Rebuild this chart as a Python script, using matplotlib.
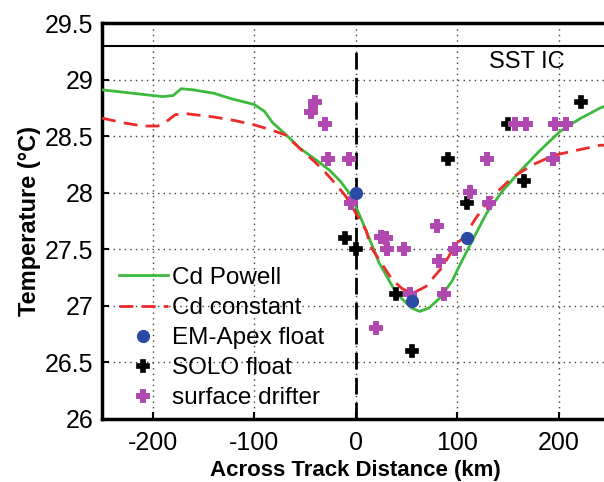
import numpy as np
import matplotlib
matplotlib.use("Agg")
import matplotlib.pyplot as plt

plt.rcParams['font.family'] = ['Liberation Sans', 'DejaVu Sans']
plt.rcParams['axes.unicode_minus'] = False

# model curves (km, degC)
powell_x = [-250, -220, -190, -180, -172, -160, -140, -122, -100, -90, -82, -66, -56,
            -36, -26, -15, -5, 0, 10, 23, 40, 55, 63, 72, 83, 95, 102, 115, 129,
            145, 162, 180, 201, 220, 241, 250]
powell_t = [28.91, 28.88, 28.85, 28.86, 28.92, 28.91, 28.88, 28.83, 28.78, 28.72, 28.62,
            28.49, 28.40, 28.27, 28.20, 28.10, 27.98, 27.88, 27.67, 27.38, 27.11, 26.98,
            26.95, 26.98, 27.07, 27.22, 27.35, 27.58, 27.82, 28.02, 28.19, 28.36, 28.54,
            28.65, 28.75, 28.78]

const_x = [-250, -230, -210, -195, -185, -178, -168, -140, -120, -100, -85, -69, -55,
           -40, -30, -20, -10, 0, 10, 15, 25, 36, 46, 56, 69, 86, 99, 106, 118, 129,
           142, 155, 175, 195, 220, 241, 250]
const_t = [28.66, 28.62, 28.59, 28.59, 28.64, 28.69, 28.70, 28.67, 28.64, 28.60, 28.56,
           28.51, 28.39, 28.27, 28.18, 28.08, 27.97, 27.82, 27.67, 27.52, 27.38, 27.23,
           27.15, 27.11, 27.17, 27.35, 27.55, 27.60, 27.77, 27.91, 28.03, 28.14, 28.25,
           28.33, 28.38, 28.42, 28.42]

# observations
apex_x = [0, 55, 110]
apex_t = [28.0, 27.04, 27.6]

solo_x = [-11, 0, 40, 55, 91, 110, 150, 166, 222]
solo_t = [27.6, 27.5, 27.1, 26.6, 28.3, 27.91, 28.61, 28.1, 28.8]

drift_x = [-40, -44, -30, -27, -7, -5, 25, 30, 31, 48, 20, 53, 80, 82, 87, 98,
           113, 129, 131, 157, 168, 194, 196, 207]
drift_t = [28.8, 28.71, 28.61, 28.3, 28.3, 27.91, 27.61, 27.6, 27.5, 27.5, 26.8, 27.1,
           27.71, 27.4, 27.1, 27.5, 28.01, 28.3, 27.91, 28.61, 28.61, 28.3, 28.61, 28.61]

sst_ic = 29.3

fig = plt.figure(figsize=(6.04, 4.82), dpi=100)
ax = fig.add_axes([0.169, 0.131, 0.840, 0.821])

ax.plot(powell_x, powell_t, color='#3dba3d', lw=2, label='Cd Powell', zorder=3)
ax.plot(const_x, const_t, color='#ee2a2a', lw=2, ls=(0, (5, 3)), label='Cd constant', zorder=3)
ax.plot(apex_x, apex_t, 'o', color='#2b4aa6', ms=8.5, label='EM-Apex float', zorder=5)
ax.plot(solo_x, solo_t, 'P', color='black', ms=8, mew=1.2, mec='black',
        label='SOLO float', zorder=4)
ax.plot(drift_x, drift_t, 'P', color='#b048b0', ms=8.5, mew=1.4, mec='#b048b0',
        label='surface drifter', zorder=4)

ax.axhline(sst_ic, color='black', lw=1.5, zorder=2)
ax.vlines(0, 26, sst_ic, color='black', lw=2, linestyles=(0, (6, 3)), zorder=2)
ax.text(131, 29.155, 'SST IC', fontsize=17, va='center', ha='left')

ax.set_xlim(-250, 250)
ax.set_ylim(26, 29.5)
ax.set_xticks([-200, -100, 0, 100, 200])
ax.set_yticks(np.arange(26, 29.51, 0.5))
ax.set_yticklabels(['26', '26.5', '27', '27.5', '28', '28.5', '29', '29.5'])
ax.grid(True, ls=(0, (1, 3)), color='0.25', lw=1)
ax.tick_params(direction='in', length=5, width=1.5, labelsize=18)
ax.tick_params(axis='y', pad=6)
ax.tick_params(axis='x', pad=9)
for s in ['left', 'bottom', 'top']:
    ax.spines[s].set_linewidth(2.5)

ax.set_xlabel('Across Track Distance (km)', fontsize=16, fontweight='bold', labelpad=3)
ax.set_ylabel('Temperature (°C)', fontsize=17, fontweight='bold', labelpad=3)

ax.legend(loc='lower left', bbox_to_anchor=(0.014, 0.0), frameon=False, fontsize=17.5,
          handlelength=2.0, handletextpad=0.2, labelspacing=0.33, borderaxespad=0.0,
          numpoints=1)

fig.savefig('out.png', dpi=100)
